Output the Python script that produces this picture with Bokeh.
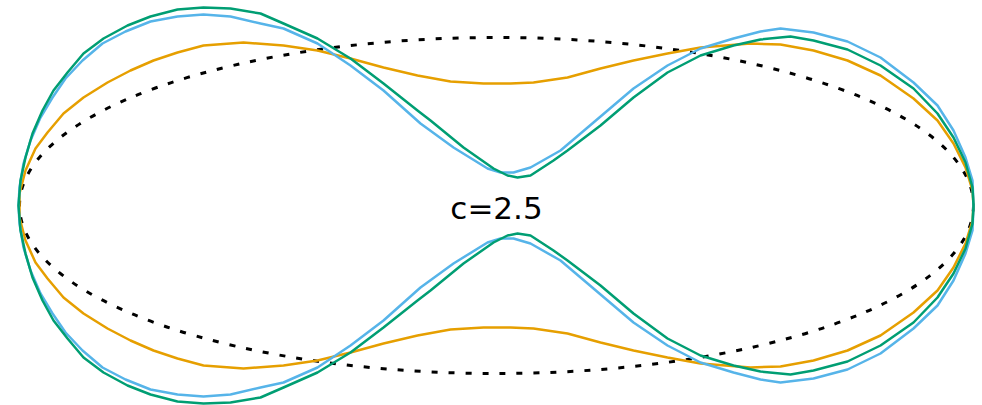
from bokeh.plotting import figure
from bokeh.models import Range1d
from bokeh.core.properties import value
from bokeh.embed import file_html
from bokeh.resources import INLINE

# Upper halves of the three closed profiles (the lower halves are their mirror images)
green_x = [-4.78, -4.76, -4.71, -4.64, -4.54, -4.43, -4.29, -4.13, -3.93, -3.69, -3.46, -3.19,
           -2.93, -2.66, -2.36, -2.13, -1.79, -1.46, -1.13, -0.79, -0.66, -0.33, -0.03, 0.11,
           0.21, 0.34, 0.57, 0.71, 1.04, 1.37, 1.71, 2.04, 2.37, 2.64, 2.94, 3.17, 3.51,
           3.84, 4.17, 4.41, 4.57, 4.69, 4.76, 4.77]
green_y = [0.00, 0.25, 0.48, 0.72, 0.95, 1.15, 1.33, 1.52, 1.67, 1.80, 1.89, 1.96,
           1.98, 1.97, 1.92, 1.82, 1.67, 1.47, 1.22, 0.95, 0.85, 0.58, 0.37, 0.30,
           0.28, 0.30, 0.45, 0.55, 0.80, 1.08, 1.33, 1.50, 1.60, 1.66, 1.69, 1.65, 1.56,
           1.40, 1.17, 0.92, 0.68, 0.43, 0.18, 0.00]

blue_x = [-4.78, -4.77, -4.73, -4.66, -4.56, -4.44, -4.31, -4.14, -3.94, -3.71, -3.46, -3.19,
          -2.93, -2.66, -2.36, -2.13, -1.79, -1.46, -1.13, -0.76, -0.43, -0.09, 0.04, 0.17,
          0.34, 0.64, 0.97, 1.37, 1.71, 2.04, 2.37, 2.64, 2.84, 3.17, 3.51, 3.84, 4.17,
          4.41, 4.57, 4.69, 4.76, 4.77]
blue_y = [0.00, 0.18, 0.42, 0.65, 0.88, 1.08, 1.27, 1.45, 1.62, 1.74, 1.84, 1.89,
          1.91, 1.89, 1.82, 1.77, 1.62, 1.40, 1.15, 0.82, 0.58, 0.37, 0.33, 0.33,
          0.38, 0.55, 0.83, 1.17, 1.40, 1.57, 1.67, 1.74, 1.77, 1.73, 1.64, 1.48, 1.23,
          1.00, 0.75, 0.48, 0.25, 0.00]

orange_x = [-4.77, -4.77, -4.71, -4.61, -4.49, -4.33, -4.13, -3.89, -3.66, -3.43, -3.19, -2.93,
            -2.53, -2.13, -1.79, -1.46, -1.13, -0.79, -0.46, -0.13, 0.14, 0.37, 0.71, 1.04,
            1.37, 1.71, 2.04, 2.54, 2.84, 3.17, 3.51, 3.84, 4.17, 4.41, 4.57, 4.69, 4.76,
            4.77]
orange_y = [0.00, 0.12, 0.35, 0.57, 0.73, 0.92, 1.08, 1.23, 1.35, 1.45, 1.53, 1.60,
            1.63, 1.60, 1.55, 1.47, 1.38, 1.30, 1.24, 1.22, 1.22, 1.23, 1.28, 1.37,
            1.45, 1.52, 1.58, 1.62, 1.61, 1.55, 1.45, 1.30, 1.07, 0.85, 0.62, 0.38, 0.15,
            0.00]

# Reference ellipse (full width and height)
ellipse_w = 9.54
ellipse_h = 3.36

label = "c=2.5"


def closed(xs, ys):
    """Join an upper half with its reflection to form a closed outline."""
    lx = list(xs) + list(reversed(xs))[1:]
    ly = list(ys) + [-v for v in reversed(ys)][1:]
    return lx, ly


p = figure(width=982, height=405, output_backend="svg", toolbar_location=None,
           x_range=Range1d(-4.96, 4.86), y_range=Range1d(-2.00, 2.05),
           min_border=0, min_border_left=0, min_border_right=0,
           min_border_top=0, min_border_bottom=0)
p.axis.visible = False
p.grid.visible = False
p.outline_line_color = None
p.background_fill_color = "white"
p.border_fill_color = "white"

p.ellipse(x=0, y=0, width=ellipse_w, height=ellipse_h, fill_color=None,
          line_color="black", line_width=3, line_dash=value("6 11"))

ox, oy = closed(orange_x, orange_y)
p.line(ox, oy, line_color="#E69F00", line_width=2.5, line_join="round")
bx, by = closed(blue_x, blue_y)
p.line(bx, by, line_color="#56B4E9", line_width=2.5, line_join="round")
gx, gy = closed(green_x, green_y)
p.line(gx, gy, line_color="#009E73", line_width=2.5, line_join="round")

p.text(x=[0.0], y=[-0.02], text=[label], text_align="center", text_baseline="middle",
       text_font=value("DejaVu Sans"), text_font_size="31px", text_color="black")

open("out.html", "w").write(file_html(p, INLINE))
